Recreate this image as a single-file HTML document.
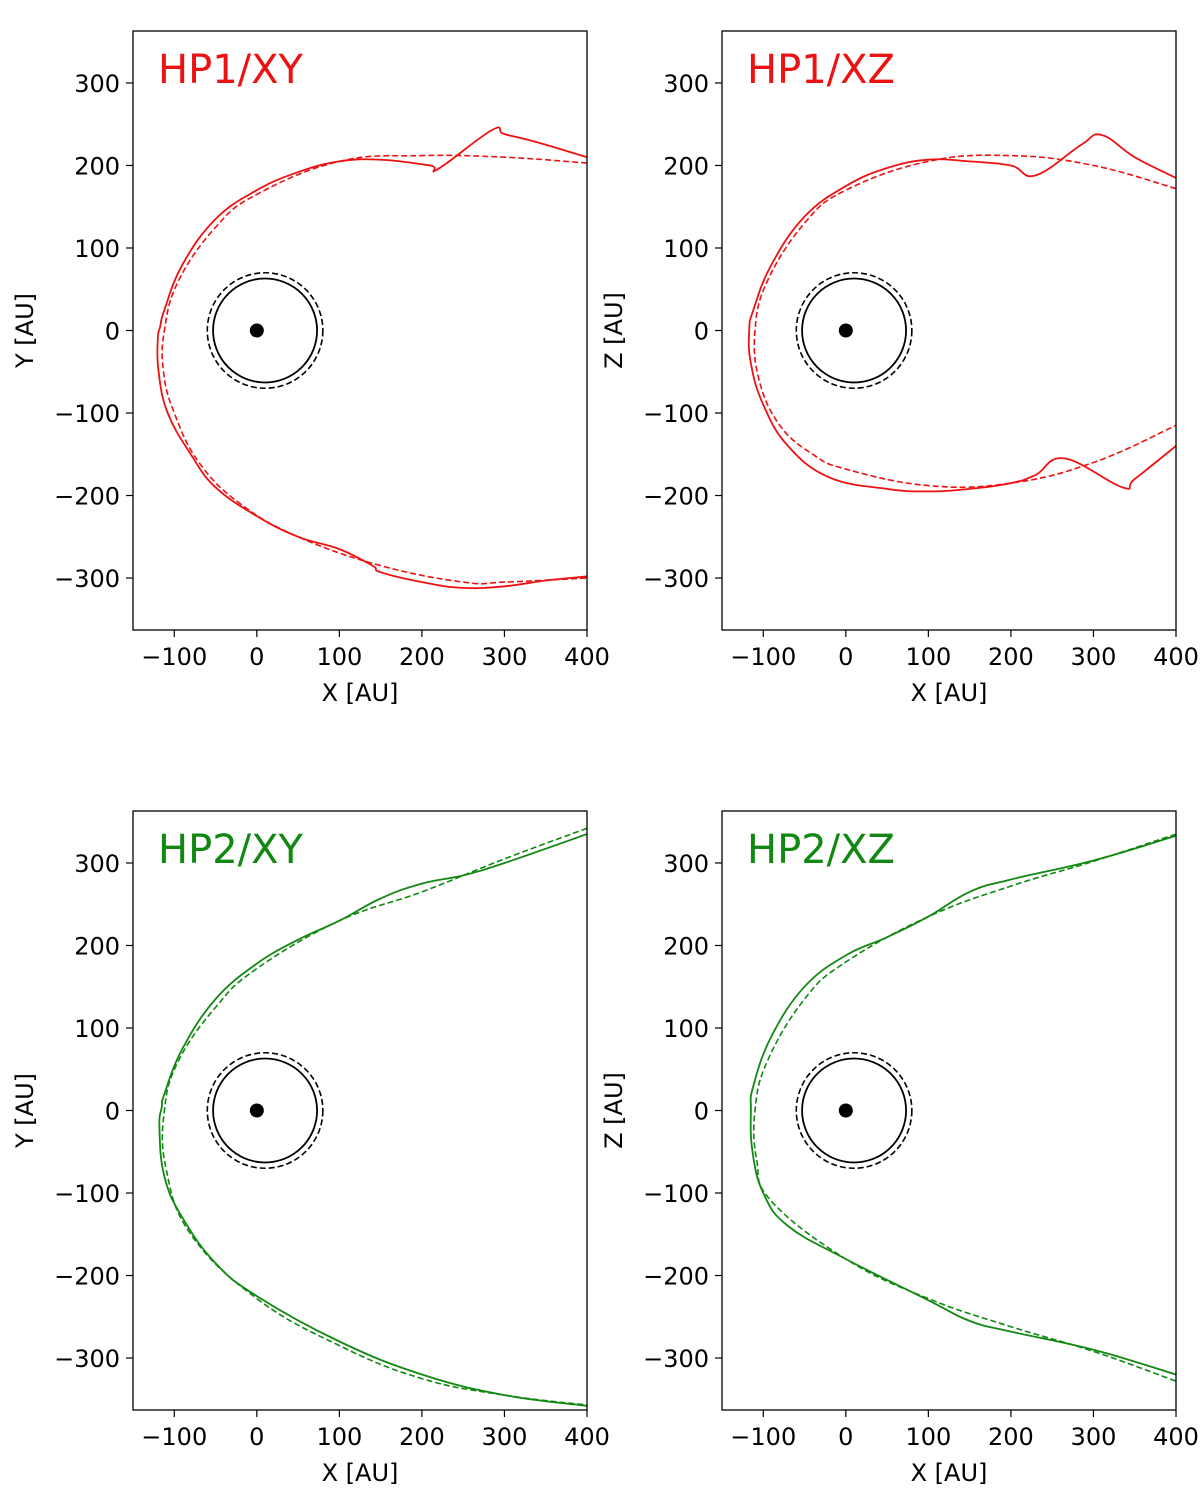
<!DOCTYPE html>
<html><head><meta charset="utf-8"><style>
body{margin:0;background:#fff}
svg text{font-family:"DejaVu Sans","Liberation Sans",sans-serif}
</style></head><body>
<svg id="fig" width="1200" height="1500" xmlns="http://www.w3.org/2000/svg"></svg>
<script>
const xTicks=[-100,0,100,200,300,400];
const yTicks=[-300,-200,-100,0,100,200,300];
const titles=["HP1/XY","HP1/XZ","HP2/XY","HP2/XZ"];
const yLabels=["Y [AU]","Z [AU]","Y [AU]","Z [AU]"];
const colors=["#ee1111","#ee1111","#118811","#118811"];
const hp1xySolid=[[400,210],[340,228],[300,238],[285,243],[220,196],[210,200],[150,207],[100,205],[50,192],[0,170],[-50,135],[-90,80],[-112,25],[-117,5],[-120,-10],[-119,-50],[-108,-100],[-80,-150],[-50,-190],[0,-225],[50,-250],[100,-265],[140,-285],[150,-293],[200,-305],[250,-312],[300,-310],[350,-303],[400,-298]];
const hp1xyDash=[[400,203],[300,210],[200,212],[100,205],[0,165],[-50,125],[-95,60],[-112,0],[-113,-50],[-100,-100],[-70,-160],[-20,-210],[50,-250],[150,-285],[250,-305],[300,-305],[400,-300]];
const hp1xzSolid=[[400,185],[350,210],[310,237],[285,225],[230,188],[200,200],[150,205],[100,207],[50,197],[0,175],[-50,138],[-90,80],[-112,25],[-117,0],[-115,-40],[-100,-90],[-70,-140],[-20,-178],[50,-192],[100,-195],[150,-192],[200,-185],[230,-175],[265,-155],[335,-190],[350,-180],[400,-140]];
const hp1xzDash=[[400,172],[300,200],[200,212],[100,205],[0,170],[-50,130],[-95,60],[-110,0],[-105,-60],[-80,-115],[-40,-150],[0,-168],[100,-188],[200,-185],[300,-160],[400,-115]];
const hp2xySolid=[[400,335],[300,300],[250,285],[200,275],[150,257],[100,230],[50,207],[0,178],[-50,135],[-90,75],[-112,20],[-115,5],[-118,-20],[-112,-80],[-90,-130],[-50,-185],[0,-225],[100,-280],[200,-320],[300,-345],[400,-358]];
const hp2xyDash=[[400,342],[300,305],[200,265],[100,230],[0,172],[-50,125],[-95,60],[-112,0],[-110,-70],[-80,-150],[0,-228],[100,-285],[200,-325],[300,-345],[400,-357]];
const hp2xzSolid=[[400,333],[300,303],[200,280],[150,265],[100,235],[50,210],[0,188],[-50,150],[-90,90],[-112,30],[-115,0],[-113,-50],[-100,-100],[-70,-140],[0,-180],[100,-230],[150,-255],[200,-268],[300,-290],[400,-320]];
const hp2xzDash=[[400,335],[300,302],[200,272],[100,235],[0,180],[-50,135],[-95,60],[-110,0],[-108,-60],[-90,-110],[0,-180],[100,-228],[200,-262],[300,-292],[400,-328]];
const solids=[hp1xySolid,hp1xzSolid,hp2xySolid,hp2xzSolid];
const dashes=[hp1xyDash,hp1xzDash,hp2xyDash,hp2xzDash];
const innerSolidR=63, innerDashR=70, innerCx=10;
const NS="http://www.w3.org/2000/svg";
const svg=document.getElementById('fig');
function mk(t,a,p){const e=document.createElementNS(NS,t);for(const k in a)e.setAttribute(k,a[k]);(p||svg).appendChild(e);return e;}
const origins=[[133,31],[722,31],[133,811],[722,811]];
for(let i=0;i<4;i++){
  const [L,T]=origins[i];const W=454,H=599;
  const sx=v=>L+(v+150)/550*W;
  const sy=v=>T+(363-v)/726*H;
  const g=mk('g',{});
  
  
  const c=mk('clipPath',{id:'c'+i},g);mk('rect',{x:L,y:T,width:W,height:H},c);
  const pg=mk('g',{'clip-path':'url(#c'+i+')'},g);
  const path=pts=>{const P=pts.map(p=>[sx(p[0]),sy(p[1])]);let d='M'+P[0][0].toFixed(1)+' '+P[0][1].toFixed(1);
    for(let j=0;j<P.length-1;j++){const p0=P[Math.max(0,j-1)],p1=P[j],p2=P[j+1],p3=P[Math.min(P.length-1,j+2)];const k=0.2;
      d+='C'+(p1[0]+(p2[0]-p0[0])*k).toFixed(1)+' '+(p1[1]+(p2[1]-p0[1])*k).toFixed(1)+' '+(p2[0]-(p3[0]-p1[0])*k).toFixed(1)+' '+(p2[1]-(p3[1]-p1[1])*k).toFixed(1)+' '+p2[0].toFixed(1)+' '+p2[1].toFixed(1);}
    return d;};
  const s=mk('path',{d:path(solids[i]),fill:'none',stroke:colors[i],'stroke-width':1.8},pg);
  
  const d=mk('path',{d:path(dashes[i]),fill:'none',stroke:colors[i],'stroke-width':1.6,'stroke-dasharray':'6 3'},pg);
  
  const cs=mk('ellipse',{cx:sx(innerCx),cy:sy(0),rx:innerSolidR*W/550,ry:innerSolidR*H/726,fill:'none',stroke:'#000','stroke-width':1.8},pg);
  
  const cd=mk('ellipse',{cx:sx(innerCx),cy:sy(0),rx:innerDashR*W/550,ry:innerDashR*H/726,fill:'none',stroke:'#000','stroke-width':1.6,'stroke-dasharray':'6 3'},pg);
  
  const sun=mk('circle',{cx:sx(0),cy:sy(0),r:7,fill:'#000'},pg);
  
  const fr=mk('rect',{x:L,y:T,width:W,height:H,fill:'none',stroke:'#000','stroke-width':1.3},g);
  
  xTicks.forEach(v=>{mk('line',{x1:sx(v),x2:sx(v),y1:T+H,y2:T+H+7,stroke:'#000','stroke-width':1.2},g);
    const t=mk('text',{x:sx(v),y:T+H+35,'text-anchor':'middle','font-size':24},g);t.textContent=v<0?'\u2212'+(-v):v;
    });
  yTicks.forEach(v=>{mk('line',{x1:L,x2:L-7,y1:sy(v),y2:sy(v),stroke:'#000','stroke-width':1.2},g);
    const t=mk('text',{x:L-13,y:sy(v)+9,'text-anchor':'end','font-size':24},g);t.textContent=v<0?'\u2212'+(-v):v;
    });
  const xl=mk('text',{x:L+W/2,y:T+H+71,'text-anchor':'middle','font-size':24},g);xl.textContent='X [AU]';
  
  const yl=mk('text',{x:0,y:0,'text-anchor':'middle','font-size':24,transform:`translate(${L-100},${T+H/2}) rotate(-90)`},g);yl.textContent=yLabels[i];
  
  const tt=mk('text',{x:L+25,y:T+52,'font-size':40,fill:colors[i]},g);tt.textContent=titles[i];
  
}
</script>
</body></html>
